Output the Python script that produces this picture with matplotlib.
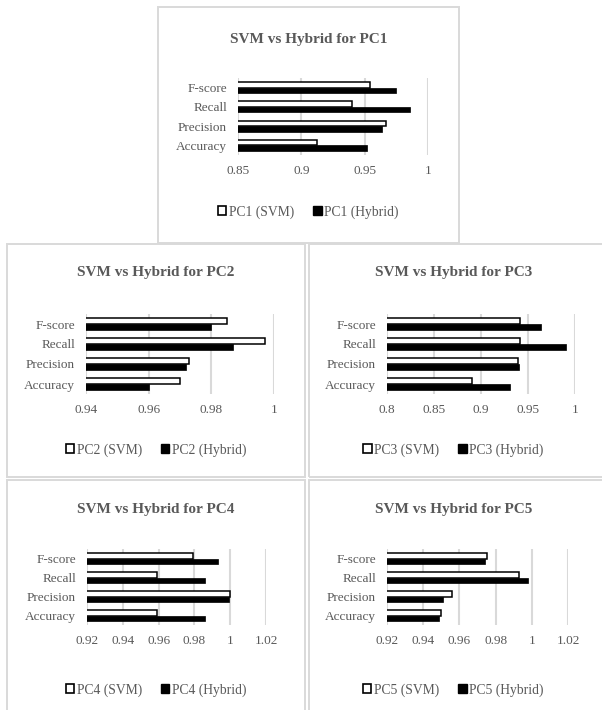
import matplotlib.pyplot as plt
from matplotlib.patches import Patch, Rectangle
import numpy as np

plt.rcParams['font.family'] = ['Liberation Serif', 'DejaVu Serif']

metrics = ["Accuracy", "Precision", "Recall", "F-score"]

# values listed in the order of metrics (bottom to top)
pc1_svm = [0.912, 0.967, 0.940, 0.954]
pc1_hyb = [0.952, 0.964, 0.986, 0.975]
pc2_svm = [0.970, 0.973, 0.997, 0.985]
pc2_hyb = [0.960, 0.972, 0.987, 0.980]
pc3_svm = [0.890, 0.939, 0.942, 0.941]
pc3_hyb = [0.931, 0.940, 0.990, 0.964]
pc4_svm = [0.959, 1.000, 0.959, 0.979]
pc4_hyb = [0.986, 0.9995, 0.986, 0.993]
pc5_svm = [0.950, 0.956, 0.993, 0.975]
pc5_hyb = [0.949, 0.951, 0.998, 0.974]

x_ticks = {
    "PC1": [0.85, 0.9, 0.95, 1],
    "PC2": [0.94, 0.96, 0.98, 1],
    "PC3": [0.8, 0.85, 0.9, 0.95, 1],
    "PC4": [0.92, 0.94, 0.96, 0.98, 1, 1.02],
    "PC5": [0.92, 0.94, 0.96, 0.98, 1, 1.02],
}

W, H = 602, 710
fig = plt.figure(figsize=(W / 100, H / 100), dpi=100)
txt = '#595959'
grid = '#d9d9d9'

# (name, svm, hybrid, box px, axes px, title y px, legend y px)
panels = [
    ("PC1", pc1_svm, pc1_hyb, (158, 7, 459, 243), (238, 78, 428, 155), 40, 212),
    ("PC2", pc2_svm, pc2_hyb, (7, 244, 305, 477), (86, 314, 274, 394), 273, 450),
    ("PC3", pc3_svm, pc3_hyb, (309, 244, 606, 477), (387, 314, 575, 394), 273, 450),
    ("PC4", pc4_svm, pc4_hyb, (7, 480, 305, 714), (87, 549, 266, 625), 510, 690),
    ("PC5", pc5_svm, pc5_hyb, (309, 480, 606, 714), (387, 549, 568, 625), 510, 690),
]

def fx(x):
    return x / W

def fy(y):
    return 1 - y / H

for name, svm, hyb, box, axp, ty, ly in panels:
    bx0, by0, bx1, by1 = box
    fig.patches.append(Rectangle((fx(bx0), fy(by1)), fx(bx1 - bx0), (by1 - by0) / H,
                                 transform=fig.transFigure, fill=False,
                                 edgecolor=grid, lw=1.4, zorder=0))
    x0, y0, x1, y1 = axp
    ax = fig.add_axes([fx(x0), fy(y1), fx(x1 - x0), (y1 - y0) / H])
    y = np.arange(len(metrics))
    h = 0.29
    ax.barh(y + h / 2, svm, height=h, color='white', edgecolor='black', lw=1.1, zorder=3)
    ax.barh(y - h / 2, hyb, height=h, color='black', edgecolor='black', lw=0.5, zorder=3)
    ticks = x_ticks[name]
    ax.set_xlim(ticks[0], ticks[-1])
    ax.set_ylim(-0.5, 3.5)
    ax.set_xticks(ticks)
    ax.set_xticklabels([f"{t:g}" for t in ticks])
    ax.set_yticks(y)
    ax.set_yticklabels(metrics)
    for t in ticks:
        ax.axvline(t, color=grid, lw=1.5, zorder=1)
    for s in ax.spines.values():
        s.set_visible(False)
    ax.tick_params(axis='x', length=0, pad=7, labelsize=9.5, labelcolor=txt)
    ax.tick_params(axis='y', length=0, pad=8, labelsize=9.5, labelcolor=txt)
    ax.patch.set_alpha(0)

    if name in ("PC3", "PC5"):
        cx = (bx0 + 602) / 2 - 2
    else:
        cx = (bx0 + bx1) / 2
    fig.text(fx(cx), fy(ty), f"SVM vs Hybrid for {name}", ha='center', va='center',
             fontsize=11, fontweight='bold', color=txt)
    handles = [Patch(facecolor='white', edgecolor='black', lw=1.2, label=f"{name} (SVM)"),
               Patch(facecolor='black', edgecolor='black', label=f"{name} (Hybrid)")]
    fig.legend(handles=handles, loc='center', bbox_to_anchor=(fx(cx), fy(ly)),
               ncol=2, frameon=False, fontsize=9.8, labelcolor=txt,
               handlelength=0.6, handleheight=0.6, handletextpad=0.2, columnspacing=1.4)

fig.savefig("out.png", dpi=100)
